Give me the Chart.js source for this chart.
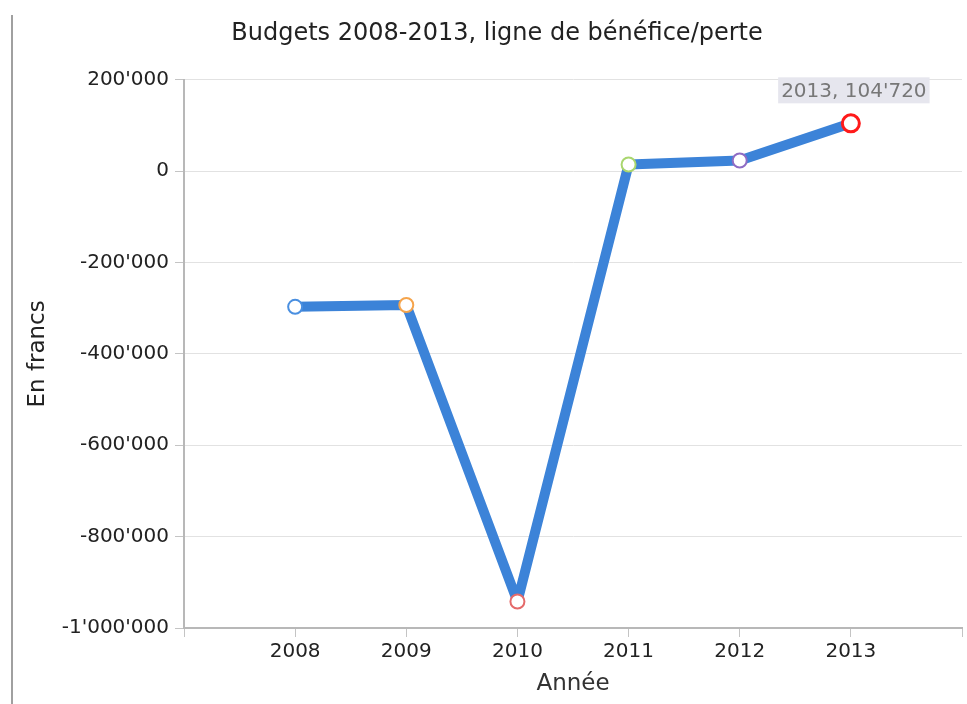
<!DOCTYPE html>
<html>
<head>
<meta charset="utf-8">
<script src="https://cdn.jsdelivr.net/npm/chart.js@4"></script>
<style>
  html, body { margin: 0; padding: 0; background: #fff; overflow: hidden; }
  #wrap { position: relative; width: 967px; height: 704px; overflow: hidden; }
  #edge { position: absolute; left: 11px; top: 15px; width: 0; height: 689px; border-left: 2px solid #a0a0a0; }
  canvas { position: absolute; left: 0; top: 0; }
</style>
</head>
<body>
<div id="wrap">
  <canvas id="budget" width="974" height="704"></canvas>
  <div id="edge"></div>
</div>
<script>
// données
const years = [2008, 2009, 2010, 2011, 2012, 2013];
const results = [-297000, -293000, -942000, 14600, 23300, 104720];
const markerColors = ['#4a8fe0', '#f5a44c', '#e46a6a', '#a9d66e', '#8f6cc4', '#ff1a1a'];
const markerSizes = [7, 7, 7, 7, 7, 8.5];
const markerWidths = [2, 2, 2, 2, 2, 3];
const highlighted = 5; // point survolé (2013)

// séparateur de milliers suisse
function fmt(v) {
    const s = String(Math.abs(Math.round(v))).replace(/\B(?=(\d{3})+(?!\d))/g, "'");
    return v < 0 ? '-' + s : s;
}

const FONT = 'DejaVu Sans';

// étiquette grise au-dessus du point survolé
const hoverLabel = {
    id: 'hoverLabel',
    afterDatasetsDraw(chart) {
        const pt = chart.getDatasetMeta(0).data[highlighted];
        if (!pt) return;
        const ctx = chart.ctx;
        const text = years[highlighted] + ', ' + fmt(results[highlighted]);
        ctx.save();
        ctx.font = '20px "' + FONT + '"';
        const w = ctx.measureText(text).width + 6;
        const h = 26;
        const cx = pt.x + 3;
        const bottom = pt.y - 20;
        ctx.fillStyle = '#e6e6ee';
        ctx.fillRect(cx - w / 2, bottom - h, w, h);
        ctx.fillStyle = '#777';
        ctx.textAlign = 'center';
        ctx.textBaseline = 'middle';
        ctx.fillText(text, cx, bottom - h / 2 + 1);
        ctx.restore();
    }
};

new Chart(document.getElementById('budget'), {
    type: 'line',
    data: {
        datasets: [{
            data: years.map((y, i) => ({ x: y, y: results[i] })),
            borderColor: '#3c83d8',
            borderWidth: 10,
            borderJoinStyle: 'bevel',
            tension: 0,
            pointBackgroundColor: '#fff',
            pointBorderColor: markerColors,
            pointRadius: markerSizes,
            pointBorderWidth: markerWidths,
            clip: false
        }]
    },
    options: {
        responsive: false,
        animation: false,
        events: [],
        // le canevas déborde de 7px à droite : le dernier point impose 12px de marge
        layout: { padding: { left: 32, right: 12, top: 0, bottom: 0 } },
        plugins: {
            legend: { display: false },
            tooltip: { enabled: false },
            title: {
                display: true,
                text: 'Budgets 2008-2013, ligne de bénéfice/perte',
                color: '#222',
                font: { family: FONT, size: 24, weight: 'normal' },
                padding: { top: 19, bottom: 32 }
            }
        },
        scales: {
            x: {
                type: 'linear',
                min: 2007,
                max: 2014,
                afterFit(scale) {
                    scale.height = 76;
                    scale.paddingLeft = 0;
                    scale.paddingRight = 0;
                },
                grid: { drawOnChartArea: false, drawTicks: true, tickLength: 9, tickColor: '#c4c4c4' },
                border: { color: '#b8b8b8', width: 2 },
                ticks: {
                    stepSize: 1,
                    padding: 3,
                    color: '#222',
                    font: { family: FONT, size: 20 },
                    callback: v => (v > 2007 && v < 2014) ? String(v) : ''
                },
                title: {
                    display: true,
                    text: 'Année',
                    color: '#333',
                    font: { family: FONT, size: 23 },
                    padding: { top: 0, bottom: 6 }
                }
            },
            y: {
                min: -1000000,
                max: 200000,
                afterFit(scale) { scale.width = 152; },
                grid: { color: '#e2e2e2', lineWidth: 1, tickLength: 9, tickColor: '#c4c4c4' },
                border: { color: '#b8b8b8', width: 2 },
                ticks: {
                    stepSize: 200000,
                    padding: 6,
                    color: '#222',
                    font: { family: FONT, size: 20 },
                    callback: v => fmt(v)
                },
                title: {
                    display: true,
                    text: 'En francs',
                    color: '#222',
                    font: { family: FONT, size: 23 },
                    padding: { top: -8, bottom: 0 }
                }
            }
        }
    },
    plugins: [hoverLabel]
});
</script>
</body>
</html>
